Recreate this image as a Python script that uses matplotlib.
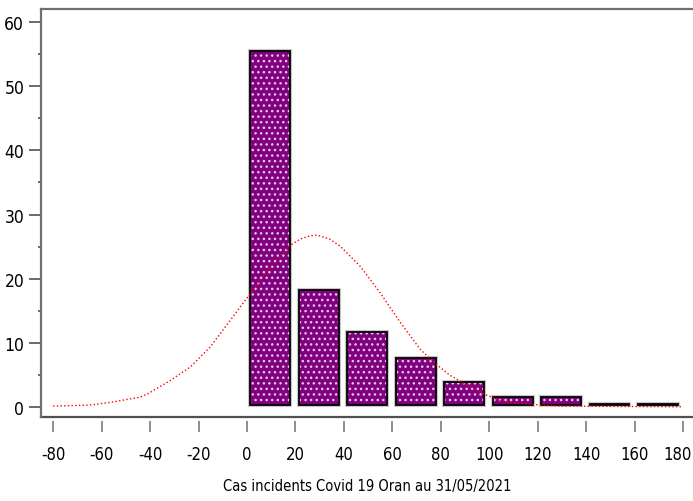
import numpy as np
import matplotlib
matplotlib.use("Agg")
import matplotlib.pyplot as plt
from matplotlib.transforms import ScaledTranslation

plt.rcParams['font.family'] = ['DejaVu Sans']
plt.rcParams['font.stretch'] = 'condensed'
plt.rcParams['axes.unicode_minus'] = False

# histogram bins (left edge of each 20-day class) and bar heights
bin_edges = [0, 20, 40, 60, 80, 100, 120, 140, 160]
counts = [55.0, 17.9, 11.4, 7.3, 3.6, 1.2, 1.2, 0.1, 0.1]

# fitted curve
curve_x = [-80, -65, -56, -44, -41, -32, -23.5, -15.3, -7, 1.2, 9.5, 17.7,
           22, 26, 29, 34, 38.4, 46.6, 54.8, 63.1, 71.3, 76.8, 83.7, 90.6,
           98.8, 104.3, 110, 120, 130, 150, 179]
curve_y = [0.2, 0.35, 0.8, 1.6, 2.1, 4.1, 6.25, 9.35, 13.5, 17.65, 21.8, 25.2,
           26.2, 26.7, 26.8, 26.2, 25.1, 22.0, 17.9, 13.3, 9.1, 7.1, 5.0, 3.5,
           1.9, 1.1, 0.7, 0.4, 0.2, 0.15, 0.1]

x_ticks = list(range(-80, 181, 20))
y_ticks = list(range(0, 61, 10))
xlabel = "Cas incidents Covid 19 Oran au 31/05/2021"

gray = '#707070'
purple = '#800080'

fig = plt.figure(figsize=(6.93, 5.02), dpi=100)
ax = fig.add_axes([41 / 693, 1 - 418 / 502, 1 - 41 / 693, 408 / 502])

left = np.array(bin_edges) + 1.3
base = 0.4
width = 16.5
# light shadow, purple fill with white dots, black frame
ax.bar(left, counts, width=width, bottom=base, align='edge',
       facecolor='none', edgecolor='#c8c8c8', linewidth=3, zorder=1)
ax.bar(left, counts, width=width, bottom=base, align='edge',
       facecolor=purple, edgecolor='#e8c8e8', linewidth=0, hatch='...', zorder=2)
ax.bar(left, counts, width=width, bottom=base, align='edge',
       facecolor='none', edgecolor='black', linewidth=1.3, zorder=3)

ax.plot(curve_x, curve_y, color='red', linestyle=':', linewidth=1.0, zorder=4)

ax.set_xlim(-85, 184)
ax.set_ylim(-1.5, 62)

ax.spines['right'].set_visible(False)
for s in ['left', 'top']:
    ax.spines[s].set_color(gray)
    ax.spines[s].set_linewidth(1.6)
ax.spines['bottom'].set_position(('outward', 3))
ax.spines['bottom'].set_visible(False)
ax.plot([0, 1], [0, 0], transform=ax.transAxes, color='#505050',
        linewidth=1.6, clip_on=False)

ax.set_xticks(x_ticks)
ax.set_yticks(y_ticks)
ax.set_yticks(list(range(5, 60, 10)), minor=True)
ax.tick_params(axis='x', length=8, width=1.1, color=gray, pad=9, labelsize=12)
ax.tick_params(axis='y', which='major', length=8.6, width=1.1, color='#404040',
               pad=3.5, labelsize=12.5)
ax.tick_params(axis='y', which='minor', length=2.5, width=1.1, color='#404040')

# keep the last x label inside the figure
last = ax.get_xticklabels()[-1]
last.set_transform(last.get_transform() + ScaledTranslation(-6 / 100, 0, fig.dpi_scale_trans))

ax.set_xlabel(xlabel, fontsize=10.5, labelpad=11)

fig.savefig('out.png', dpi=100)
